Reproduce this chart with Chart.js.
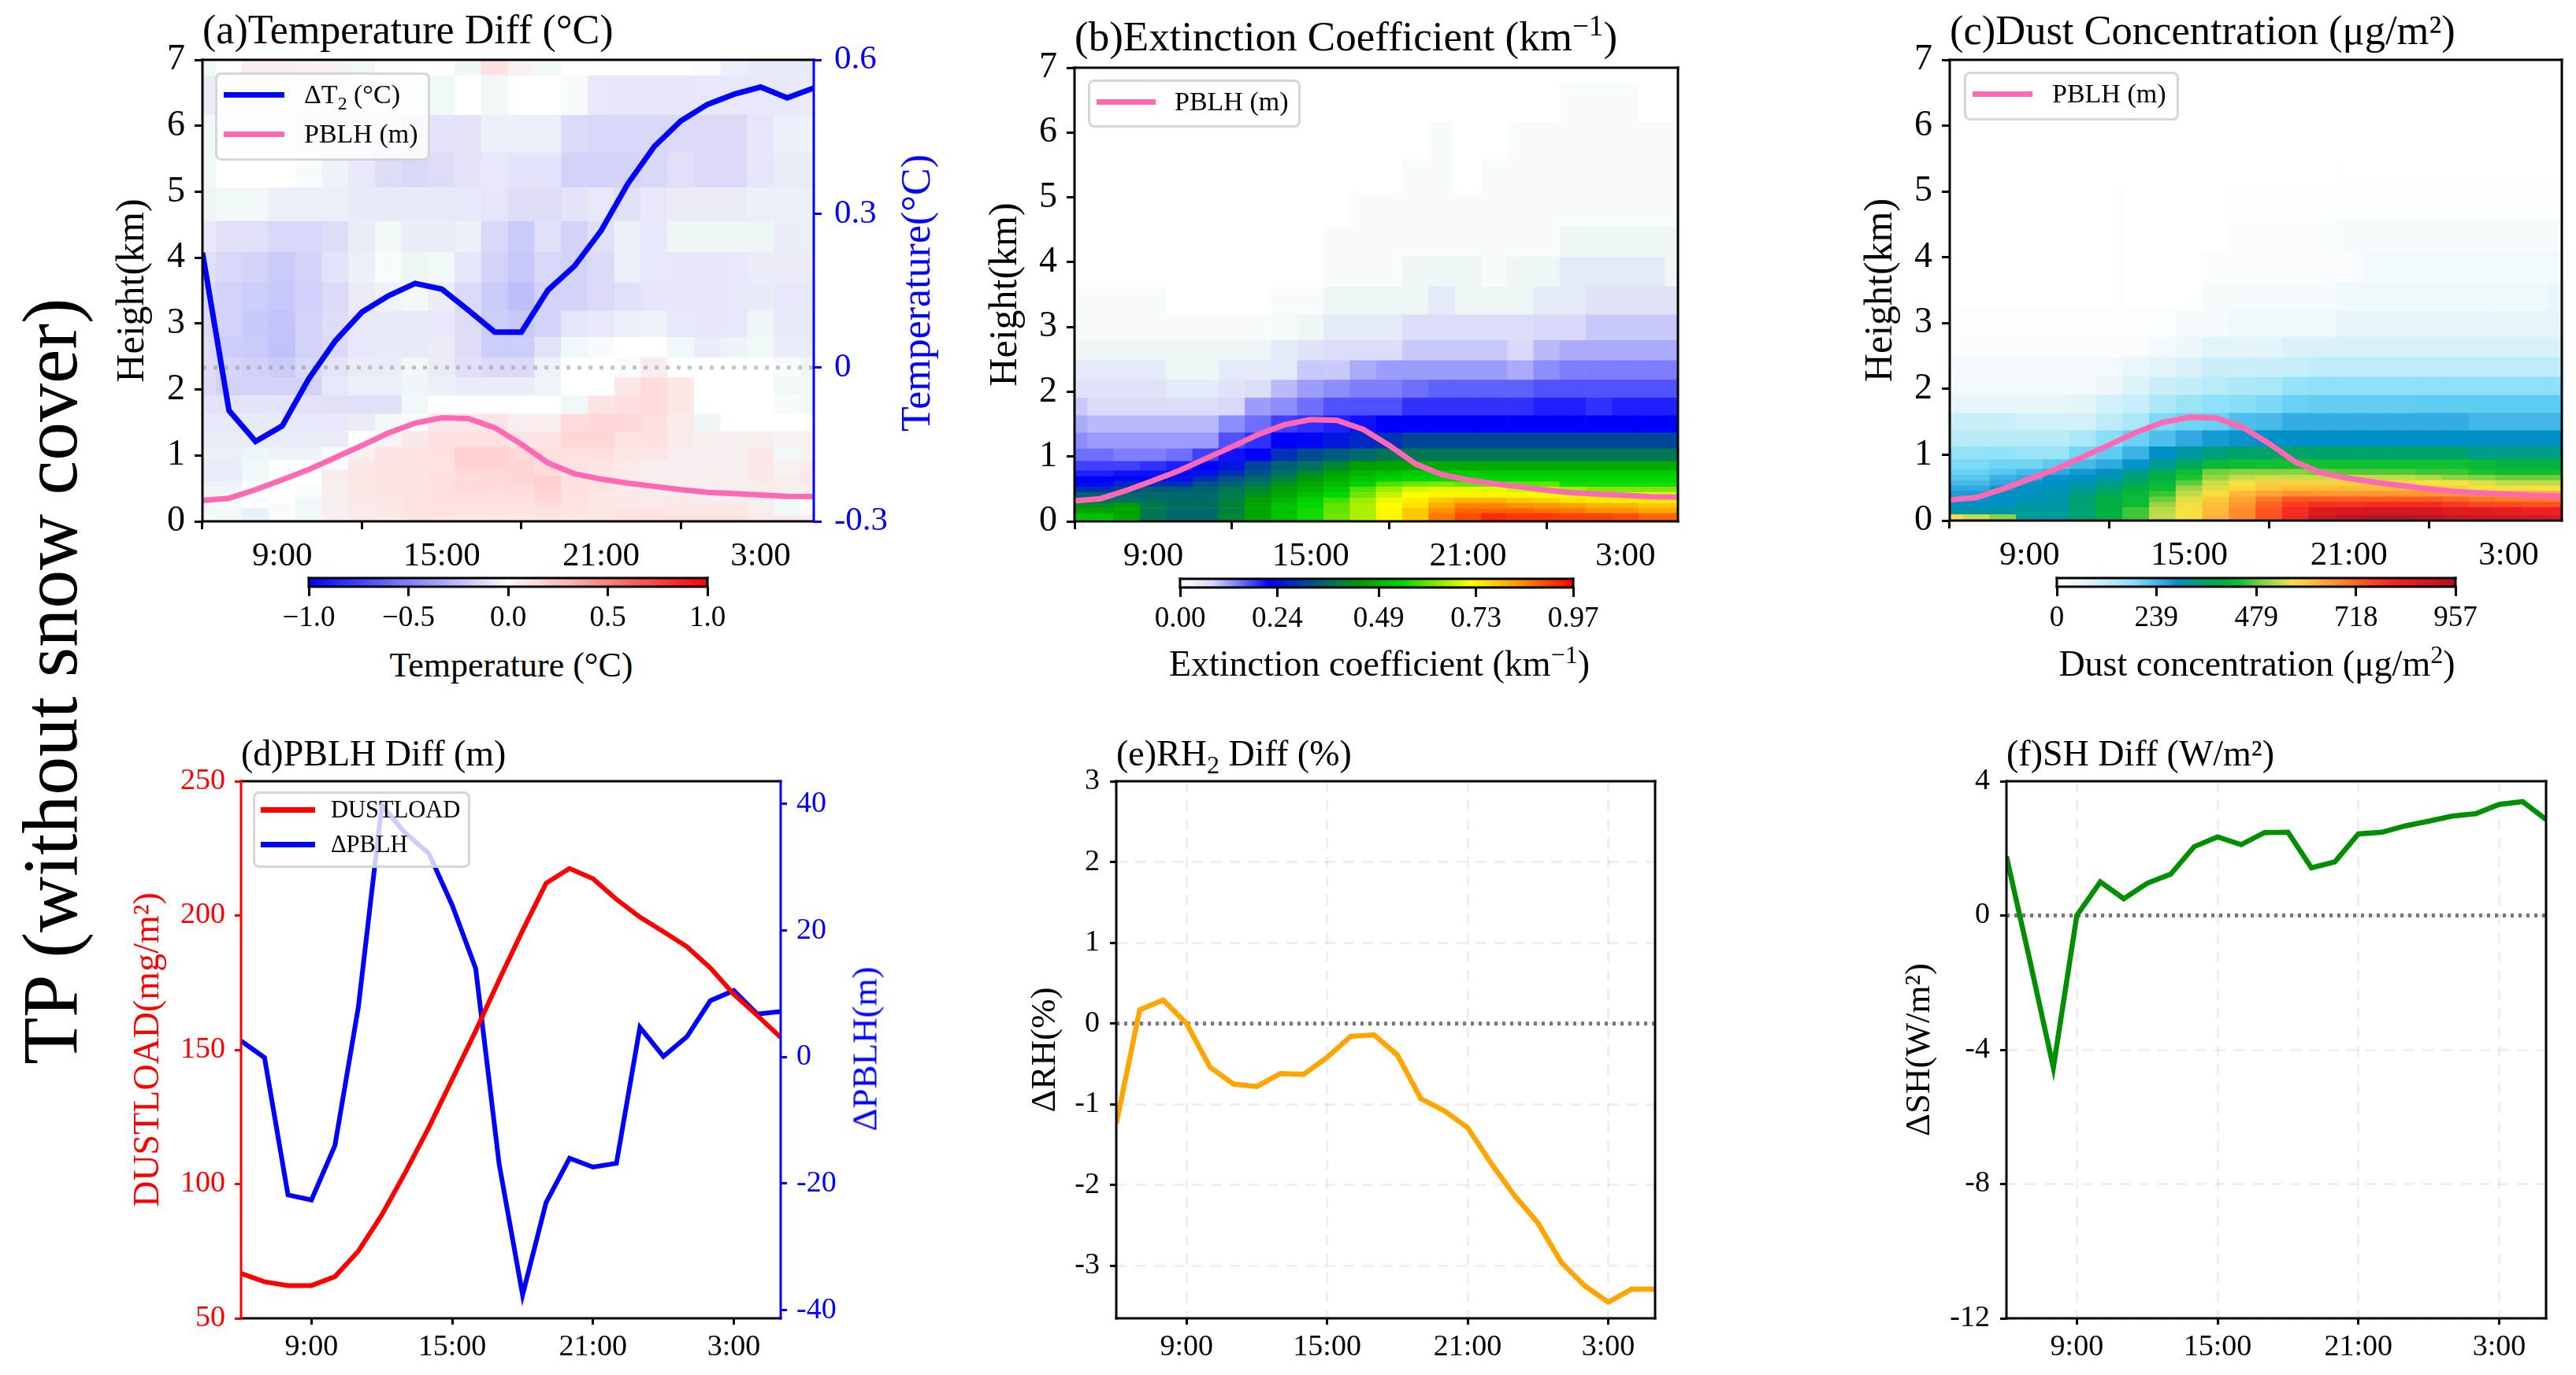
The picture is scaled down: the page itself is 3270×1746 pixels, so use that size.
<!DOCTYPE html>
<html>
<head>
<meta charset="utf-8">
<title>TP (without snow cover)</title>
<script src="https://cdn.jsdelivr.net/npm/chart.js@4/dist/chart.umd.min.js"></script>
<style>
html, body { margin: 0; padding: 0; background: #fff; width: 3270px; height: 1746px; overflow: hidden; }
canvas { position: absolute; }
.txt { position: absolute; white-space: nowrap; line-height: 1; font-family: "Liberation Serif", "Times New Roman", serif; color: #000; }
.txt sub, .txt sup { font-size: 0.7em; line-height: 0; }
.legend { position: absolute; box-sizing: border-box; background: rgba(255,255,255,0.8); border: 3px solid rgba(204,204,204,0.8); border-radius: 8px; }
.swatch { position: absolute; height: 7px; }
</style>
</head>
<body>
<script>
const FONT = '"Liberation Serif", "Times New Roman", serif';

// hours run 6:00 .. 29:00 (5:00 next day), one sample per hour
const hourTicks = [3, 9, 15, 21];
const hourLabels = ["9:00", "15:00", "21:00", "3:00"];

const heightTicks = [0, 1, 2, 3, 4, 5, 6, 7];
const heightLabels = ["0", "1", "2", "3", "4", "5", "6", "7"];

const pblhKm = [0.315, 0.35, 0.48, 0.63, 0.785, 0.967, 1.15, 1.34, 1.49, 1.57, 1.56, 1.42, 1.17, 0.886, 0.72, 0.64, 0.58, 0.53, 0.48, 0.44, 0.42, 0.40, 0.38, 0.375];
const deltaT2 = [0.224, -0.084, -0.144, -0.114, -0.022, 0.052, 0.108, 0.14, 0.164, 0.153, 0.112, 0.069, 0.069, 0.151, 0.198, 0.267, 0.358, 0.431, 0.481, 0.513, 0.533, 0.547, 0.526, 0.545];
const dustLoad = [66.7, 63.6, 62.2, 62.2, 65.5, 75, 88.5, 104.3, 121, 139, 157, 176, 194.4, 212, 217.5, 213.7, 206, 199.4, 194, 188.4, 180.5, 170.7, 162.8, 154.6];
const deltaPblh = [2.55, -0.1, -21.8, -22.6, -14, 7.9, 39.8, 35.4, 32.2, 24, 14, -16.9, -37.6, -23, -16, -17.4, -16.8, 4.7, 0.1, 3.2, 8.9, 10.5, 6.8, 7.2];
const deltaRh = [-1.24, 0.17, 0.29, 0, -0.54, -0.75, -0.78, -0.62, -0.63, -0.42, -0.16, -0.14, -0.39, -0.93, -1.08, -1.29, -1.73, -2.13, -2.47, -2.96, -3.25, -3.45, -3.29, -3.29];
const deltaSh = [1.76, -1.35, -4.53, 0, 1.0, 0.5, 0.96, 1.23, 2.05, 2.34, 2.11, 2.47, 2.48, 1.42, 1.6, 2.43, 2.48, 2.67, 2.81, 2.96, 3.03, 3.31, 3.39, 2.86];
const zeroLine = [0, 0, 0, 0, 0, 0, 0, 0, 0, 0, 0, 0, 0, 0, 0, 0, 0, 0, 0, 0, 0, 0, 0, 0];

// model level edges in km
const dustEdges = [0, 0.09, 0.2, 0.28, 0.36, 0.447, 0.53, 0.61, 0.69, 0.78, 0.925, 1.12, 1.365, 1.63, 1.905, 2.18, 2.48, 2.79, 3.19, 3.62, 4.08, 4.55, 5.06, 5.59, 6.16, 6.76, 7];
const extinctionEdges = [0, 0.02, 0.12, 0.2, 0.28, 0.36, 0.447, 0.53, 0.61, 0.69, 0.78, 0.925, 1.12, 1.365, 1.63, 1.905, 2.18, 2.48, 2.79, 3.19, 3.62, 4.08, 4.55, 5.06, 5.59, 6.16, 6.76, 7];

// temperature difference, 0.01 degC, bottom level first
const tempRows = [
    [-1,-2,-5,-1,-2,4,7,8,10,10,9,8,9,10,9,10,12,13,12,12,12,8,8,5],
    [-2,-2,-5,-1,-2,4,7,8,10,11,11,10,10,11,10,9,10,10,9,9,9,6,-2,-1],
    [-3,-1,0,-1,-2,5,8,9,11,12,12,11,12,13,11,9,9,9,8,8,8,5,-2,0],
    [-4,-2,-1,0,-2,4,8,9,11,12,12,12,13,15,11,9,8,7,7,6,6,5,-2,-1],
    [-3,-2,0,0,-1,4,8,10,11,12,13,13,13,17,12,9,8,6,6,6,5,5,-2,4],
    [-3,-3,0,0,-1,5,9,10,11,13,15,14,14,18,12,10,7,6,6,5,5,5,5,5],
    [-5,-5,-1,0,0,5,9,10,10,13,15,15,15,19,12,10,7,5,5,5,5,6,5,7],
    [-6,-6,-2,0,0,6,9,10,10,13,13,15,16,19,12,10,7,5,5,5,5,8,5,9],
    [-7,-7,-2,0,0,6,9,10,10,12,15,15,17,14,11,9,7,5,5,4,4,9,3,8],
    [-6,-6,-2,0,0,-1,8,10,10,11,18,18,16,13,11,10,7,5,5,5,4,8,3,6],
    [-5,-5,-3,-4,-4,-1,4,10,11,12,18,18,15,13,13,13,9,9,5,5,4,8,-2,3],
    [-6,-6,-6,-6,-6,-6,0,3,8,12,12,13,10,10,16,16,11,12,6,4,4,4,2,2],
    [-8,-8,-7,-7,-8,-8,-6,-2,-1,8,8,10,5,5,14,15,15,13,7,-3,0,0,0,0],
    [-10,-10,-10,-10,-10,-11,-11,-11,-2,0,0,0,0,0,-2,10,13,14,9,0,0,0,-1,-2],
    [-13,-16,-16,-16,-16,-8,-5,-5,-3,-5,-6,-6,-6,-3,0,0,8,14,9,0,0,0,-2,-2],
    [-12,-15,-17,-19,-14,-10,-6,-6,-2,-6,-11,-13,-13,-4,0,0,-1,6,0,0,0,0,-1,-3],
    [-12,-18,-19,-23,-16,-13,-8,-7,-7,-6,-12,-18,-18,-10,-2,-1,0,0,-2,-6,-4,-2,-6,-6],
    [-13,-16,-20,-22,-16,-12,-8,-7,-7,-8,-12,-18,-20,-16,-9,-8,-5,-4,-8,-9,-8,-3,-7,-7],
    [-14,-16,-18,-20,-17,-13,-6,-4,-2,-6,-13,-19,-24,-16,-16,-13,-11,-9,-9,-9,-8,-7,-8,-8],
    [-11,-14,-16,-19,-16,-10,-5,-1,-3,-2,-9,-16,-20,-14,-16,-13,-5,-8,-9,-9,-8,-6,-6,-6],
    [-8,-11,-11,-14,-14,-12,-6,-2,-6,-6,-5,-14,-19,-11,-16,-11,-5,-8,-3,-3,-3,-3,-6,-5],
    [-3,-2,-2,-5,-5,-5,-7,-7,-7,-7,-8,-9,-12,-12,-10,-8,-11,-8,-6,-6,-6,-5,-5,-5],
    [-2,0,0,0,-1,-4,-8,-12,-14,-12,-10,-8,-10,-10,-16,-16,-16,-14,-11,-13,-13,-9,-6,-6],
    [-2,-4,-4,-4,-5,-5,-5,-5,-9,-10,-10,-5,-5,-5,-13,-14,-14,-14,-13,-13,-13,-9,-5,-4],
    [-6,-3,-3,-3,-3,-3,-3,-3,-2,-2,0,-2,0,0,-1,-8,-9,-9,-9,-8,-8,-8,-8,-6],
    [-2,0,5,5,3,3,-2,0,0,0,-3,12,3,-2,0,0,0,0,0,-1,-5,-7,-7,-7]
];

// extinction coefficient, 0.01 km-1, bottom level first
const extinctionRows = [
    [80,70,68,38,36,36,41,46,51,56,62,66,73,78,86,92,95,94,94,93,93,92,90,90],
    [51,51,46,38,36,36,41,46,51,56,62,66,73,78,86,90,93,92,92,91,91,90,88,88],
    [45,45,46,38,36,36,40,46,51,56,61,66,73,78,84,88,88,88,87,86,84,84,82,82],
    [42,42,45,39,37,37,40,46,51,55,61,66,72,75,81,85,85,84,83,82,80,80,78,78],
    [38,38,37,37,36,36,40,45,49,54,59,65,71,74,78,80,80,78,77,75,74,74,74,74],
    [35,35,36,36,36,36,39,43,46,51,55,62,68,72,73,73,73,73,71,70,70,70,70,70],
    [28,28,30,34,34,35,38,41,45,48,53,60,65,69,70,70,70,68,68,65,63,63,63,63],
    [23,23,27,28,28,33,35,38,43,47,50,54,60,62,63,61,61,61,61,56,56,56,56,56],
    [22,22,23,23,24,28,33,36,40,44,48,52,54,55,55,55,55,55,55,55,55,55,55,55],
    [20,20,21,21,22,24,28,33,37,42,46,49,51,53,53,53,53,53,53,53,53,53,53,53],
    [18,18,18,19,20,22,25,31,35,37,41,45,46,46,47,47,47,47,47,47,47,47,47,47],
    [15,15,14,14,15,18,21,22,28,32,34,36,38,38,38,38,38,38,38,38,38,38,38,38],
    [13,12,12,12,12,12,17,19,22,23,25,27,28,31,31,31,31,31,31,31,31,31,31,31],
    [11,10,10,10,10,10,13,15,18,19,20,21,22,22,22,22,22,22,22,22,22,22,22,22],
    [9,7,7,7,7,7,8,12,13,15,17,17,17,19,19,19,19,19,20,20,19,20,20,20],
    [6,6,6,6,5,5,6,7,10,12,13,14,14,15,16,16,16,16,17,17,17,17,17,17],
    [5,5,5,5,3,3,5,5,5,9,9,11,12,12,12,12,12,11,13,14,14,14,14,14],
    [3,3,3,3,3,3,3,3,5,6,7,7,7,9,9,9,9,8,10,11,11,11,11,11],
    [1,1,1,1,1,1,1,1,2,3,5,5,5,7,7,7,7,7,8,8,9,9,9,9],
    [1,1,1,1,0,0,0,0,1,1,3,3,3,3,5,3,3,3,5,5,6,6,6,6],
    [0,0,0,0,0,0,0,0,0,0,1,1,1,3,3,3,1,3,3,5,5,5,5,3],
    [0,0,0,0,0,0,0,0,0,0,1,1,1,1,1,1,1,1,1,3,3,3,3,3],
    [0,0,0,0,0,0,0,0,0,0,0,1,1,1,1,1,1,1,1,1,1,1,1,1],
    [0,0,0,0,0,0,0,0,0,0,0,0,0,1,1,0,1,1,1,1,1,1,1,1],
    [0,0,0,0,0,0,0,0,0,0,0,0,0,0,1,0,0,1,1,1,1,1,1,1],
    [0,0,0,0,0,0,0,0,0,0,0,0,0,0,0,0,0,0,0,1,1,1,0,0],
    [0,0,0,0,0,0,0,0,0,0,0,0,0,0,0,0,0,0,0,0,0,0,0,0]
];

// dust concentration, bottom level first
const dustRows = [
    [565,535,500,320,320,345,400,460,530,565,630,680,740,810,900,930,940,940,930,915,900,890,880,870],
    [310,310,310,320,320,345,400,460,525,565,620,675,735,800,860,880,890,890,880,860,850,840,820,820],
    [290,290,290,310,310,345,400,430,505,560,610,660,720,770,795,790,800,800,800,780,760,750,740,740],
    [285,285,290,300,310,350,400,430,480,550,600,645,695,735,730,730,730,730,730,720,700,690,690,690],
    [270,270,290,295,305,330,370,420,455,530,570,620,645,665,660,660,660,660,660,655,640,630,630,630],
    [255,255,280,290,295,320,350,400,435,510,550,575,600,615,615,615,615,615,600,585,565,565,565,565],
    [235,235,255,285,290,305,325,370,420,475,535,565,585,585,585,585,585,585,565,565,550,530,530,530],
    [220,220,245,255,285,290,305,345,400,445,505,530,540,535,535,535,530,530,520,500,490,480,480,480],
    [205,205,220,235,255,275,295,325,370,430,485,495,495,495,480,470,470,470,460,460,445,435,435,435],
    [190,190,200,200,215,235,255,285,325,370,420,435,440,440,440,440,440,440,440,440,425,410,410,410],
    [170,170,170,160,160,195,215,245,290,315,335,355,355,355,355,355,355,355,355,355,330,330,330,330],
    [130,130,130,130,130,145,180,205,230,255,275,285,290,290,290,290,290,290,290,290,290,290,290,290],
    [105,105,105,95,95,95,120,145,190,200,205,230,235,250,250,250,250,250,250,250,240,240,240,240],
    [60,60,60,60,60,70,95,110,140,160,175,180,190,205,210,210,210,210,215,215,215,215,215,215],
    [35,35,35,35,35,35,50,80,105,115,130,140,145,165,175,175,175,175,175,175,175,175,175,175],
    [25,25,25,25,25,25,35,55,70,85,105,105,105,110,120,120,120,120,120,120,120,120,120,120],
    [12,12,12,12,12,12,12,12,35,50,70,70,70,85,85,85,85,85,85,85,85,85,85,85],
    [10,10,10,10,10,10,10,10,10,25,25,40,40,40,40,60,60,60,60,60,60,60,60,60],
    [5,5,5,5,5,5,5,5,5,5,20,20,20,20,20,40,40,40,40,40,40,40,40,55],
    [5,5,5,5,5,5,5,5,5,5,15,15,15,15,15,15,35,35,35,35,35,35,35,35],
    [5,5,5,5,5,5,5,5,5,5,5,12,12,12,12,22,22,22,22,22,22,22,22,22],
    [5,5,5,5,5,5,5,5,5,5,5,10,10,10,10,10,10,10,10,10,10,10,10,10],
    [2,2,2,2,2,2,2,2,2,2,2,2,2,2,2,6,6,6,6,6,6,6,6,6],
    [2,2,2,2,2,2,2,2,2,2,2,2,2,2,2,2,2,2,2,2,2,5,5,5],
    [1,1,1,1,1,1,1,1,1,1,1,1,1,1,1,1,1,1,1,1,1,1,1,1],
    [0,0,0,0,0,0,0,0,0,0,0,0,0,0,0,0,0,0,0,0,0,0,1,1]
];

// colormaps as [value, colour]
const tempRamp = [[-100,"#0000ff"],[-50,"#8080ff"],[-20,"#c8c8fa"],[-10,"#e3e3f9"],[-5,"#ecf0f8"],[-2,"#f0f9f8"],[0,"#ffffff"],[2,"#f8f4f2"],[5,"#f8eeee"],[12,"#ffe0e0"],[20,"#ffcccc"],[50,"#ff8080"],[100,"#ff0000"]];
const extinctionRamp = [[0,"#ffffff"],[3,"#eef6f6"],[8,"#d8d8fa"],[16,"#6060ff"],[22,"#0000ff"],[30,"#0040a0"],[37,"#007060"],[45,"#00a000"],[55,"#00d800"],[63,"#80e800"],[72,"#ffff00"],[84,"#ff9000"],[97,"#ff0000"]];
const dustRamp = [[0,"#ffffff"],[70,"#e4f5fa"],[130,"#b8eaf8"],[180,"#88e0f8"],[220,"#58c8f0"],[255,"#30a8e0"],[290,"#0090c8"],[340,"#00a078"],[400,"#00b040"],[440,"#10c030"],[490,"#80d040"],[530,"#c0dc48"],[565,"#f8e040"],[620,"#ffb838"],[680,"#ff8828"],[740,"#ff5020"],[820,"#f02020"],[880,"#d81820"],[957,"#b01020"]];

function rampColor(ramp, v) {
    if (v <= ramp[0][0]) return ramp[0][1];
    for (let i = 1; i < ramp.length; i++) {
        if (v <= ramp[i][0]) {
            const t = (v - ramp[i - 1][0]) / (ramp[i][0] - ramp[i - 1][0]);
            const a = parseInt(ramp[i - 1][1].slice(1), 16);
            const b = parseInt(ramp[i][1].slice(1), 16);
            const mix = s => Math.round(((a >> s) & 255) * (1 - t) + ((b >> s) & 255) * t);
            return "rgb(" + mix(16) + "," + mix(8) + "," + mix(0) + ")";
        }
    }
    return ramp[ramp.length - 1][1];
}

const framePlugin = {
    id: "frame",
    afterDatasetsDraw(chart, args, opts) {
        const c = chart.ctx;
        const a = chart.chartArea;
        const edge = (col, x1, y1, x2, y2) => {
            c.strokeStyle = col;
            c.beginPath();
            c.moveTo(x1, y1);
            c.lineTo(x2, y2);
            c.stroke();
        };
        c.save();
        c.lineWidth = opts.width || 3;
        c.lineCap = "square";
        edge(opts.top || "#000", a.left, a.top, a.right, a.top);
        edge(opts.bottom || "#000", a.left, a.bottom, a.right, a.bottom);
        edge(opts.left || "#000", a.left, a.top, a.left, a.bottom);
        edge(opts.right || "#000", a.right, a.top, a.right, a.bottom);
        c.restore();
    }
};

function linearAxis(cfg) {
    return {
        type: "linear",
        position: cfg.position,
        min: cfg.min,
        max: cfg.max,
        offset: false,
        afterBuildTicks: s => { s.ticks = cfg.values.map(v => ({ value: v })); },
        afterFit: s => {
            if (s.isHorizontal()) s.height = cfg.margin;
            else s.width = cfg.margin;
        },
        ticks: {
            autoSkip: false,
            maxRotation: 0,
            minRotation: 0,
            color: cfg.color || "#000",
            font: { family: FONT, size: cfg.size },
            padding: cfg.padding,
            callback: v => cfg.labels[cfg.values.indexOf(v)]
        },
        grid: {
            drawOnChartArea: !!cfg.gridColor,
            color: cfg.gridColor || "transparent",
            lineWidth: 3,
            tickColor: cfg.color || "#000",
            tickWidth: 3,
            tickLength: cfg.tickLength || 10
        },
        border: { display: false, dash: cfg.gridColor ? [14, 10] : [] },
        title: cfg.title ? {
            display: true,
            text: cfg.title,
            color: cfg.color || "#000",
            padding: 0,
            font: { family: FONT, size: cfg.titleSize, lineHeight: 1 }
        } : { display: false }
    };
}

function toPoints(values) {
    return values.map((v, i) => ({ x: i, y: v }));
}

function lineSet(label, values, color, axis, width) {
    return {
        type: "line",
        label: label,
        data: toPoints(values),
        borderColor: color,
        borderWidth: width,
        pointRadius: 0,
        tension: 0,
        yAxisID: axis,
        order: 0
    };
}

function zeroSet(color, axis, width, dash) {
    return {
        type: "line",
        label: "zero",
        data: toPoints(zeroLine),
        borderColor: color,
        borderWidth: width,
        borderDash: dash,
        pointRadius: 0,
        yAxisID: axis,
        order: 1
    };
}

function heatSets(edges, rows, ramp) {
    return rows.map((row, r) => ({
        type: "bar",
        data: row.map((v, i) => ({ x: i, y: [edges[r], edges[r + 1]] })),
        backgroundColor: row.map(v => rampColor(ramp, v)),
        grouped: false,
        barPercentage: 1,
        categoryPercentage: 1,
        borderWidth: 0,
        clip: 0,
        yAxisID: "y",
        order: 2
    }));
}

// plot: the wanted chart area on the page, m: room around it inside the canvas
function makeChart(plot, m, type, datasets, scales, frame, indexAxis) {
    const canvas = document.createElement("canvas");
    canvas.width = plot.r - plot.l + m.left + m.right;
    canvas.height = plot.b - plot.t + m.top + m.bottom;
    canvas.style.left = (plot.l - m.left) + "px";
    canvas.style.top = (plot.t - m.top) + "px";
    document.body.appendChild(canvas);
    return new Chart(canvas, {
        type: type,
        data: { datasets: datasets },
        plugins: [framePlugin],
        options: {
            indexAxis: indexAxis || "x",
            responsive: false,
            animation: false,
            events: [],
            layout: { autoPadding: false, padding: { top: m.top, left: m.padLeft || 0, right: m.padRight || 0, bottom: 0 } },
            scales: scales,
            plugins: { legend: { display: false }, tooltip: { enabled: false }, frame: frame }
        }
    });
}

function addText(html, x, y, size, opts) {
    opts = opts || {};
    const el = document.createElement("div");
    el.className = "txt";
    el.innerHTML = html;
    el.style.left = x + "px";
    el.style.top = y + "px";
    el.style.fontSize = size + "px";
    if (opts.color) el.style.color = opts.color;
    const shift = opts.left ? "translate(0,-50%)" : "translate(-50%,-50%)";
    el.style.transform = shift + (opts.rotate ? " rotate(" + opts.rotate + "deg)" : "") + (opts.stretch ? " scaleX(" + opts.stretch + ")" : "");
    document.body.appendChild(el);
}

function addLegend(box, items) {
    const el = document.createElement("div");
    el.className = "legend";
    el.style.left = box.x + "px";
    el.style.top = box.y + "px";
    el.style.width = box.w + "px";
    el.style.height = box.h + "px";
    document.body.appendChild(el);
    items.forEach(item => {
        const s = document.createElement("div");
        s.className = "swatch";
        s.style.left = box.x1 + "px";
        s.style.width = (box.x2 - box.x1) + "px";
        s.style.top = (item.y - 3.5) + "px";
        s.style.background = item.color;
        document.body.appendChild(s);
        addText(item.html, box.textX, item.y, box.size, { left: true });
    });
}

function heatXAxis() {
    return linearAxis({ min: 0, max: 23, values: hourTicks, labels: hourLabels, size: 43, padding: 9, margin: 70 });
}

function heightAxis(margin) {
    return linearAxis({ min: 0, max: 7, position: "left", values: heightTicks, labels: heightLabels, size: 46, padding: 12, margin: margin, title: "Height(km)", titleSize: 50 });
}

function lowerXAxis(gridColor) {
    return linearAxis({ min: 0, max: 23, values: hourTicks, labels: hourLabels, size: 38, padding: 6, margin: 66, tickLength: 8, gridColor: gridColor });
}

function makeColorbar(plot, ramp, rampScale, values, labels) {
    const min = values[0];
    const max = values[values.length - 1];
    const fill = ctx => {
        const chart = ctx.chart;
        if (!chart.chartArea) return "#fff";
        const g = chart.ctx.createLinearGradient(chart.chartArea.left, 0, chart.chartArea.right, 0);
        ramp.forEach(stop => {
            const pos = (stop[0] * rampScale - min) / (max - min);
            g.addColorStop(Math.min(1, Math.max(0, pos)), stop[1]);
        });
        return g;
    };
    const m = { left: 50, right: 50, top: 4, bottom: 60, padLeft: 50, padRight: 50 };
    makeChart(plot, m, "bar", [{
        data: [[min, max]],
        backgroundColor: fill,
        borderWidth: 0,
        barPercentage: 1,
        categoryPercentage: 1,
        clip: 0
    }], {
        x: linearAxis({ min: min, max: max, values: values, labels: labels, size: 37, padding: 6, margin: 60, tickLength: 12 }),
        y: { type: "category", labels: ["bar"], offset: true, display: false }
    }, { width: 3 }, "y");
}

function drawPage() {
    const plotA = { l: 257, r: 1033, t: 76, b: 662 };
    const plotB = { l: 1364, r: 2130, t: 86, b: 662 };
    const plotC = { l: 2475, r: 3252, t: 76, b: 661 };
    const plotD = { l: 306, r: 991, t: 992, b: 1674 };
    const plotE = { l: 1417, r: 2101, t: 992, b: 1674 };
    const plotF = { l: 2547, r: 3232, t: 992, b: 1674 };
    const gridGrey = "rgba(128,128,128,0.13)";

    // (a) temperature
    makeChart(plotA, { left: 113, right: 120, top: 50, bottom: 70 }, "bar",
        heatSets(dustEdges, tempRows, tempRamp).concat([
            lineSet("T2", deltaT2, "#0000ff", "y1", 7),
            lineSet("PBLH", pblhKm, "#ff69b4", "y", 7),
            zeroSet("rgba(150,150,160,0.55)", "y1", 5, [5, 9])
        ]), {
            x: heatXAxis(),
            y: heightAxis(113),
            y1: linearAxis({ min: -0.3, max: 0.6, position: "right", values: [-0.3, 0, 0.3, 0.6], labels: ["-0.3", "0", "0.3", "0.6"], color: "#0000ff", size: 43, padding: 16, margin: 120 })
        }, { right: "#0000ff" });

    // (b) extinction
    makeChart(plotB, { left: 112, right: 30, top: 50, bottom: 70, padRight: 30 }, "bar",
        heatSets(extinctionEdges, extinctionRows, extinctionRamp).concat([lineSet("PBLH", pblhKm, "#ff69b4", "y", 7)]),
        { x: heatXAxis(), y: heightAxis(112) }, {});

    // (c) dust
    makeChart(plotC, { left: 112, right: 18, top: 50, bottom: 70, padRight: 18 }, "bar",
        heatSets(dustEdges, dustRows, dustRamp).concat([lineSet("PBLH", pblhKm, "#ff69b4", "y", 7)]),
        { x: heatXAxis(), y: heightAxis(112) }, {});

    // (d) PBLH diff
    makeChart(plotD, { left: 140, right: 90, top: 50, bottom: 66 }, "line", [
        lineSet("DUSTLOAD", dustLoad, "#ff0000", "y", 6),
        lineSet("PBLH diff", deltaPblh, "#0000ff", "y1", 6)
    ], {
        x: lowerXAxis(),
        y: linearAxis({ min: 50, max: 250, position: "left", values: [50, 100, 150, 200, 250], labels: ["50", "100", "150", "200", "250"], color: "#ff0000", size: 38, padding: 12, margin: 140, tickLength: 8, title: "DUSTLOAD(mg/m\u00b2)", titleSize: 46 }),
        y1: linearAxis({ min: -41.3, max: 43.6, position: "right", values: [-40, -20, 0, 20, 40], labels: ["-40", "-20", "0", "20", "40"], color: "#0000ff", size: 38, padding: 12, margin: 90, tickLength: 8 })
    }, { left: "#ff0000", right: "#0000ff" });

    // (e) RH diff
    makeChart(plotE, { left: 112, right: 30, top: 50, bottom: 66, padRight: 30 }, "line", [
        zeroSet("#777", "y", 5, [4, 6]),
        lineSet("RH", deltaRh, "#ffa500", "y", 6.5)
    ], {
        x: lowerXAxis(gridGrey),
        y: linearAxis({ min: -3.65, max: 3, position: "left", values: [-3, -2, -1, 0, 1, 2, 3], labels: ["-3", "-2", "-1", "0", "1", "2", "3"], size: 38, padding: 13, margin: 112, tickLength: 8, title: "\u0394RH(%)", titleSize: 45, gridColor: gridGrey })
    }, {});

    // (f) SH diff
    makeChart(plotF, { left: 132, right: 30, top: 50, bottom: 66, padRight: 30 }, "line", [
        zeroSet("#777", "y", 5, [4, 6]),
        lineSet("SH", deltaSh, "#008f00", "y", 6.5)
    ], {
        x: lowerXAxis(gridGrey),
        y: linearAxis({ min: -12, max: 4, position: "left", values: [-12, -8, -4, 0, 4], labels: ["-12", "-8", "-4", "0", "4"], size: 38, padding: 13, margin: 132, tickLength: 8, title: "\u0394SH(W/m\u00b2)", titleSize: 45, gridColor: gridGrey })
    }, {});

    // colour bars
    makeColorbar({ l: 392, r: 898, t: 734, b: 745 }, tempRamp, 0.01, [-1, -0.5, 0, 0.5, 1], ["\u22121.0", "\u22120.5", "0.0", "0.5", "1.0"]);
    makeColorbar({ l: 1498, r: 1997, t: 735, b: 746 }, extinctionRamp, 0.01, [0, 0.24, 0.49, 0.73, 0.97], ["0.00", "0.24", "0.49", "0.73", "0.97"]);
    makeColorbar({ l: 2611, r: 3117, t: 734, b: 745 }, dustRamp, 1, [0, 239, 479, 718, 957], ["0", "239", "479", "718", "957"]);

    // titles
    addText("(a)Temperature Diff (\u00b0C)", 257, 38, 52, { left: true });
    addText("(b)Extinction Coefficient (km<sup>\u22121</sup>)", 1364, 46, 53, { left: true });
    addText("(c)Dust Concentration (\u03bcg/m\u00b2)", 2475, 38, 52.5, { left: true });
    addText("(d)PBLH Diff (m)", 306, 957, 46, { left: true });
    addText("(e)RH<sub>2</sub> Diff (%)", 1417, 957, 46, { left: true });
    addText("(f)SH Diff (W/m\u00b2)", 2547, 957, 46, { left: true });

    // colour bar labels
    addText("Temperature (\u00b0C)", 649, 845, 44);
    addText("Extinction coefficient (km<sup>\u22121</sup>)", 1751, 843, 46);
    addText("Dust concentration (\u03bcg/m<sup>2</sup>)", 2865, 843, 46);

    // right hand axis labels read bottom to top
    addText("Temperature(\u00b0C)", 1163, 372, 52, { color: "#0000ff", rotate: -90 });
    addText("\u0394PBLH(m)", 1098, 1332, 45, { color: "#0000ff", rotate: -90 });

    addText("TP (without snow cover)", 64, 865, 100, { rotate: -90, stretch: 0.98 });

    // legends
    const t2Label = "\u0394T<sub>2</sub> (\u00b0C)";
    const pblhLabel = "PBLH (m)";
    addLegend({ x: 273, y: 92, w: 273, h: 112, x1: 284, x2: 361, textX: 386, size: 34 }, [
        { html: t2Label, color: "#0000ff", y: 120 },
        { html: pblhLabel, color: "#ff69b4", y: 170 }
    ]);
    addLegend({ x: 1381, y: 101, w: 270, h: 61, x1: 1392, x2: 1467, textX: 1491, size: 34 }, [
        { html: pblhLabel, color: "#ff69b4", y: 129 }
    ]);
    addLegend({ x: 2493, y: 91, w: 273, h: 62, x1: 2504, x2: 2580, textX: 2605, size: 34 }, [
        { html: pblhLabel, color: "#ff69b4", y: 119 }
    ]);
    addLegend({ x: 321, y: 1005, w: 276, h: 97, x1: 331, x2: 400, textX: 420, size: 30.5 }, [
        { html: "DUSTLOAD", color: "#ff0000", y: 1028 },
        { html: "\u0394PBLH", color: "#0000ff", y: 1072 }
    ]);
}

drawPage();
</script>
</body>
</html>
